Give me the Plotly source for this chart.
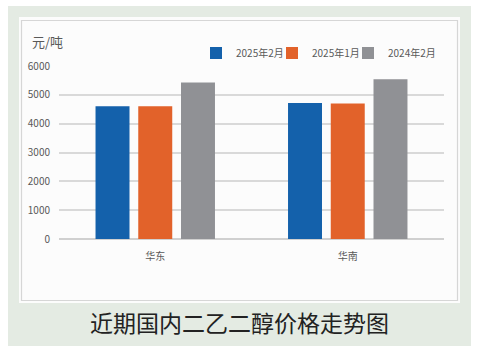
import plotly.graph_objects as go

categories = ["华东", "华南"]
series_names = ["2025年2月", "2025年1月", "2024年2月"]
values_feb2025 = [4600, 4720]
values_jan2025 = [4600, 4700]
values_feb2024 = [5430, 5540]
colors = ["#1461ab", "#e2622a", "#909195"]
y_ticks = [0, 1000, 2000, 3000, 4000, 5000, 6000]

W, H = 477, 364
L, R, T, B = 59, 444, 66, 239

def px(x):
    return (x - L) / (R - L)

def py(y):
    return (B - y) / (B - T)

legend_ids = ["legend", "legend2", "legend3"]
legend_x = [196, 272, 348]

fig = go.Figure()
for name, vals, c, lg in zip(series_names, [values_feb2025, values_jan2025, values_feb2024], colors, legend_ids):
    fig.add_trace(go.Bar(x=categories, y=vals, name=name, marker_color=c,
                         marker_line_width=0, legend=lg))

font_main = "Noto Sans CJK SC, Microsoft YaHei, sans-serif"

legend_common = dict(orientation="h", xanchor="left", y=py(53), yanchor="middle",
                     bgcolor="rgba(0,0,0,0)", font=dict(size=10, color="#595959"),
                     itemwidth=30, borderwidth=0)

fig.update_layout(
    width=W, height=H,
    margin=dict(l=L, r=W - R, t=T, b=H - B, pad=0, autoexpand=False),
    paper_bgcolor="white",
    plot_bgcolor="rgba(0,0,0,0)",
    barmode="group",
    bargap=0.334,
    bargroupgap=0.205,
    font=dict(family=font_main, color="#595959", size=10),
    showlegend=True,
    legend=dict(x=px(legend_x[0]), **legend_common),
    legend2=dict(x=px(legend_x[1]), **legend_common),
    legend3=dict(x=px(legend_x[2]), **legend_common),
    xaxis=dict(showgrid=False, showline=False, ticks="", tickfont=dict(size=10, color="#595959"),
               ticklabelstandoff=10),
    yaxis=dict(range=[0, 6000], tickvals=y_ticks, showgrid=True, gridcolor="#d9d9d9",
               gridwidth=1.5, zeroline=True, zerolinecolor="#d0d0d0", zerolinewidth=1.5,
               showline=False, ticks="", tickfont=dict(size=10, color="#595959"),
               ticklabelstandoff=8),
    shapes=[
        dict(type="rect", xref="paper", yref="paper", x0=px(8), x1=px(471), y0=py(6), y1=py(346),
             fillcolor="#e4ebe3", line_width=0, layer="below"),
        dict(type="rect", xref="paper", yref="paper", x0=px(19), x1=px(460), y0=py(17), y1=py(303),
             fillcolor="#fcfcfc", line_width=0, layer="below"),
        dict(type="rect", xref="paper", yref="paper", x0=px(21.5), x1=px(457.5), y0=py(20.5), y1=py(300.5),
             fillcolor="rgba(0,0,0,0)", line=dict(color="#d6d6d6", width=1.2), layer="below"),
    ],
    annotations=[
        dict(text="元/吨", xref="paper", yref="paper", x=px(30), y=py(41), xanchor="left",
             yanchor="middle", showarrow=False, font=dict(size=13, color="#595959")),
        dict(text="近期国内二乙二醇价格走势图", xref="paper", yref="paper", x=px(239), y=py(322),
             xanchor="center", yanchor="middle", showarrow=False,
             font=dict(size=23, color="#222222")),
    ],
)

fig.write_html("out.html", config={"displayModeBar": False},
               post_script="document.body.style.margin='0';document.body.style.padding='0';")
